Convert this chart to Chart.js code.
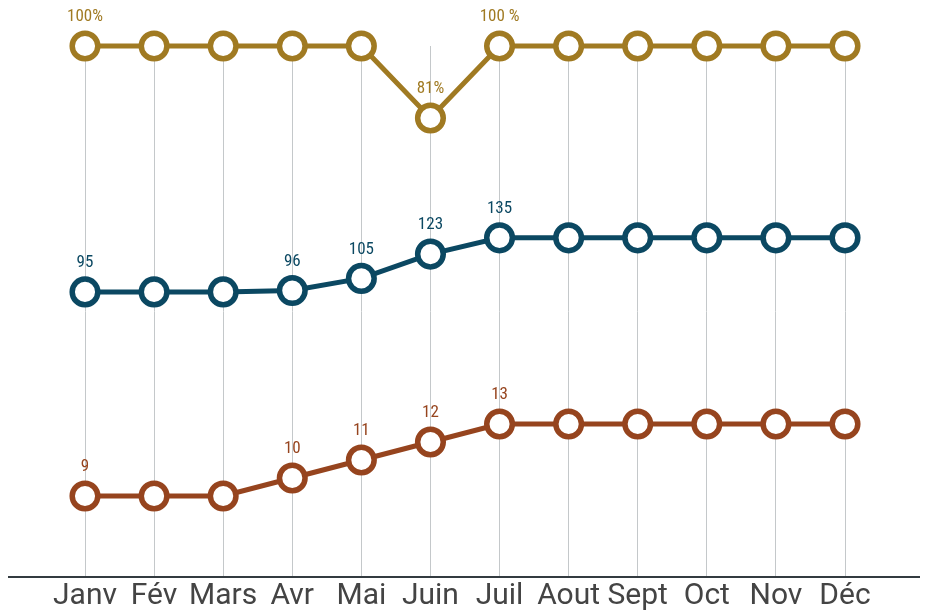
<!DOCTYPE html>
<html>
<head>
<meta charset="utf-8">
<script src="https://cdn.jsdelivr.net/npm/chart.js@4"></script>
<style>
  html, body { margin: 0; padding: 0; background: #fff; }
  #wrap { width: 933px; height: 615px; }
</style>
</head>
<body>
<div id="wrap"><canvas id="myChart" width="933" height="615"></canvas></div>
<script>
// mois
const labels = ['Janv', 'Fév', 'Mars', 'Avr', 'Mai', 'Juin', 'Juil', 'Aout', 'Sept', 'Oct', 'Nov', 'Déc'];

// taux (%)
const tauxValues = [100, 100, 100, 100, 100, 81, 100, 100, 100, 100, 100, 100];
const tauxLabels = ['100%', '', '', '', '', '81%', '100 %', '', '', '', '', ''];

// série bleue
const bleuValues = [95, 95, 95, 96, 105, 123, 135, 135, 135, 135, 135, 135];
const bleuLabels = ['95', '', '', '96', '105', '123', '135', '', '', '', '', ''];

// série brune
const bruneValues = [9, 9, 9, 10, 11, 12, 13, 13, 13, 13, 13, 13];
const bruneLabels = ['9', '', '', '10', '11', '12', '13', '', '', '', '', ''];

const OR = '#a07a22';
const BLEU = '#0b4862';
const BRUN = '#96441e';

// étiquettes au-dessus des points (pas de datalabels dispo)
const pointLabels = {
  id: 'pointLabels',
  afterDatasetsDraw(chart) {
    const ctx = chart.ctx;
    ctx.save();
    ctx.font = 'condensed 17px Roboto';
    ctx.textAlign = 'center';
    ctx.textBaseline = 'middle';
    chart.data.datasets.forEach((ds, i) => {
      const meta = chart.getDatasetMeta(i);
      ctx.fillStyle = ds.borderColor;
      meta.data.forEach((pt, j) => {
        const txt = ds.valueLabels[j];
        if (txt) ctx.fillText(txt, pt.x, pt.y - 29);
      });
    });
    ctx.restore();
  }
};

// ligne de base sur toute la largeur
const baseLine = {
  id: 'baseLine',
  afterDraw(chart) {
    const ctx = chart.ctx;
    const y = chart.chartArea.bottom;
    ctx.save();
    ctx.strokeStyle = '#333b40';
    ctx.lineWidth = 2;
    ctx.beginPath();
    ctx.moveTo(8, y);
    ctx.lineTo(chart.width - 13, y);
    ctx.stroke();
    ctx.restore();
  }
};

const mkDataset = (data, valueLabels, color, axis) => ({
  data,
  valueLabels,
  yAxisID: axis,
  borderColor: color,
  backgroundColor: '#fff',
  borderWidth: 5,
  pointRadius: 12.8,
  pointHoverRadius: 12.8,
  pointBorderWidth: 5.5,
  pointBackgroundColor: '#fff',
  pointBorderColor: color,
  tension: 0,
  clip: false
});

new Chart(document.getElementById('myChart').getContext('2d'), {
  type: 'line',
  data: {
    labels,
    datasets: [
      mkDataset(tauxValues, tauxLabels, OR, 'yTaux'),
      mkDataset(bleuValues, bleuLabels, BLEU, 'yBleu'),
      mkDataset(bruneValues, bruneLabels, BRUN, 'yBrun')
    ]
  },
  options: {
    responsive: false,
    animation: false,
    layout: { padding: { top: 46, left: 85, right: 88, bottom: 0 } },
    plugins: {
      legend: { display: false },
      tooltip: { enabled: false }
    },
    scales: {
      x: {
        offset: false,
        border: { display: false },
        grid: { color: '#c4c8ca', lineWidth: 1, drawTicks: false },
        ticks: {
          autoSkip: false,
          maxRotation: 0,
          padding: 1,
          color: '#444',
          font: { family: 'Roboto', style: 'condensed', size: 30 }
        }
      },
      yTaux: { display: false, min: -40.1, max: 100 },
      yBleu: { display: false, min: -116, max: 277 },
      yBrun: { display: false, min: 4.5, max: 34 }
    }
  },
  plugins: [pointLabels, baseLine]
});
</script>
</body>
</html>
